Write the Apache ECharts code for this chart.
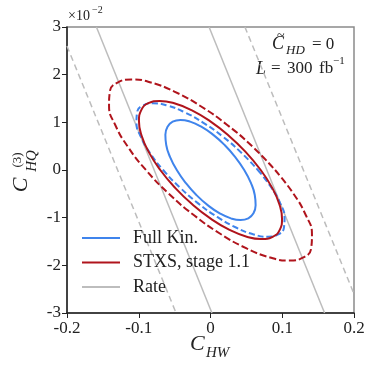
<!DOCTYPE html>
<html>
<head>
<meta charset="utf-8">
<script src="https://cdn.jsdelivr.net/npm/echarts@6/dist/echarts.min.js"></script>
<style>
  html, body { margin: 0; padding: 0; background: #fff; }
  #chart { width: 374px; height: 371px; }
</style>
</head>
<body>
<div id="chart"></div>
<script>
// axis ticks
var xTicks = [-0.2, -0.1, 0, 0.1, 0.2];
var xTickLabels = ['-0.2', '-0.1', '0', '0.1', '0.2'];
var yTicks = [-3, -2, -1, 0, 1, 2, 3];
var yTickLabels = ['-3', '-2', '-1', '0', '1', '2', '3'];

// contours, [C_HW, C_HQ(3) x 1e2]
var fullKinSolid = [
  [0.047, 0], [0.0563, -0.272], [0.0617, -0.525], [0.0629, -0.742], [0.0599, -0.909],
  [0.0527, -1.014], [0.042, -1.05], [0.0284, -1.014], [0.0129, -0.909], [-0.0035, -0.742],
  [-0.0197, -0.525], [-0.0345, -0.272], [-0.047, 0], [-0.0563, 0.272], [-0.0617, 0.525],
  [-0.0629, 0.742], [-0.0599, 0.909], [-0.0527, 1.014], [-0.042, 1.05], [-0.0284, 1.014],
  [-0.0129, 0.909], [0.0035, 0.742], [0.0197, 0.525], [0.0345, 0.272], [0.047, 0]
];
var fullKinDashed = [
  [0.066, 0], [0.0845, -0.362], [0.0972, -0.7], [0.1032, -0.99], [0.1023, -1.212],
  [0.0944, -1.352], [0.08, -1.4], [0.0602, -1.352], [0.0363, -1.212], [0.0099, -0.99],
  [-0.0172, -0.7], [-0.043, -0.362], [-0.066, 0], [-0.0845, 0.362], [-0.0972, 0.7],
  [-0.1032, 0.99], [-0.1023, 1.212], [-0.0944, 1.352], [-0.08, 1.4], [-0.0602, 1.352],
  [-0.0363, 1.212], [-0.0099, 0.99], [0.0172, 0.7], [0.043, 0.362], [0.066, 0]
];
var stxsSolid = [
  [0.07, 0], [0.086, -0.375], [0.0961, -0.725], [0.0997, -1.025], [0.0965, -1.256],
  [0.0867, -1.401], [0.071, -1.45], [0.0505, -1.401], [0.0265, -1.256], [0.0007, -1.025],
  [-0.0251, -0.725], [-0.0492, -0.375], [-0.07, 0], [-0.086, 0.375], [-0.0961, 0.725],
  [-0.0997, 1.025], [-0.0965, 1.256], [-0.0867, 1.401], [-0.071, 1.45], [-0.0505, 1.401],
  [-0.0265, 1.256], [-0.0007, 1.025], [0.0251, 0.725], [0.0492, 0.375], [0.07, 0]
];
var stxsDashed = [
  [0.09, 0], [0.1154, -0.492], [0.1329, -0.95], [0.1414, -1.343], [0.1403, -1.645],
  [0.1295, -1.835], [0.11, -1.9], [0.083, -1.835], [0.0503, -1.645], [0.0141, -1.343],
  [-0.0229, -0.95], [-0.0585, -0.492], [-0.09, 0], [-0.1154, 0.492], [-0.1329, 0.95],
  [-0.1414, 1.343], [-0.1403, 1.645], [-0.1295, 1.835], [-0.11, 1.9], [-0.083, 1.835],
  [-0.0503, 1.645], [-0.0141, 1.343], [0.0229, 0.95], [0.0585, 0.492], [0.09, 0]
];
// rate-only bands
var rateSolidA = [[-0.159, 3], [0.002, -3]];
var rateSolidB = [[-0.002, 3], [0.159, -3]];
var rateDashedA = [[-0.2, 2.6], [-0.048, -3]];
var rateDashedB = [[0.048, 3], [0.2, -2.6]];

var BLUE = '#3f84ec';
var RED = '#b0141c';
var GRAY = '#bdbdbd';
var SERIF = '"Liberation Serif", "DejaVu Serif", serif';

function lineSeries(name, data, color, width, dash, z) {
  return {
    name: name,
    type: 'line',
    data: data,
    smooth: true,
    symbol: 'none',
    silent: true,
    animation: false,
    z: z,
    lineStyle: { color: color, width: width, type: dash || 'solid' },
    itemStyle: { color: color }
  };
}

function txt(text, x, y, size, opt) {
  opt = opt || {};
  return {
    type: 'text',
    x: x,
    y: y,
    silent: true,
    style: {
      text: text,
      font: (opt.italic ? 'italic ' : '') + size + 'px ' + SERIF,
      fill: '#222',
      textAlign: opt.align || 'left',
      textVerticalAlign: 'middle',
      align: opt.align || 'left',
      verticalAlign: 'middle'
    }
  };
}

var chart = echarts.init(document.getElementById('chart'), null, { renderer: 'canvas' });

var option = {
  backgroundColor: '#fff',
  animation: false,
  grid: {
    left: 67, top: 27, width: 287, height: 286,
    show: true, borderColor: '#8a8a8a', borderWidth: 1.5, backgroundColor: 'transparent'
  },
  xAxis: {
    type: 'value', min: -0.2, max: 0.2, interval: 0.1,
    axisLine: { show: true, onZero: false, lineStyle: { color: '#222', width: 1.5 } },
    axisTick: { show: true, inside: false, length: 5, lineStyle: { color: '#222', width: 1 } },
    splitLine: { show: false },
    axisLabel: {
      margin: 7, color: '#222', fontSize: 17, fontFamily: SERIF,
      formatter: function (v) {
        var i = xTicks.findIndex(function (t) { return Math.abs(t - v) < 1e-9; });
        return i >= 0 ? xTickLabels[i] : '';
      }
    }
  },
  yAxis: {
    type: 'value', min: -3, max: 3, interval: 1,
    axisLine: { show: true, onZero: false, lineStyle: { color: '#222', width: 1.5 } },
    axisTick: { show: true, inside: false, length: 5, lineStyle: { color: '#222', width: 1 } },
    splitLine: { show: false },
    axisLabel: {
      margin: 6, color: '#222', fontSize: 17, fontFamily: SERIF,
      formatter: function (v) {
        var i = yTicks.indexOf(Math.round(v));
        return i >= 0 ? yTickLabels[i] : '';
      }
    }
  },
  legend: {
    orient: 'vertical',
    left: 82, top: 229, padding: 0,
    icon: 'rect',
    itemWidth: 38, itemHeight: 2, itemGap: 6.5,
    data: ['Full Kin.', 'STXS, stage 1.1', 'Rate'],
    textStyle: { fontFamily: SERIF, fontSize: 18, color: '#222', padding: [0, 0, 0, 8] },
    selectedMode: false
  },
  series: [
    lineSeries('Rate', rateSolidA, GRAY, 1.5, null, 1),
    lineSeries('Rate', rateSolidB, GRAY, 1.5, null, 1),
    lineSeries('Rate', rateDashedA, GRAY, 1.5, [6, 4], 1),
    lineSeries('Rate', rateDashedB, GRAY, 1.5, [6, 4], 1),
    lineSeries('Full Kin.', fullKinSolid, BLUE, 2, null, 3),
    lineSeries('STXS, stage 1.1', stxsSolid, RED, 2, null, 3),
    lineSeries('Full Kin.', fullKinDashed, BLUE, 2, [6, 3], 2),
    lineSeries('STXS, stage 1.1', stxsDashed, RED, 2, [7, 3], 2)
  ],
  graphic: [
    // scale factor above the y axis
    txt('\u00d710', 68, 16, 14),
    txt('\u22122', 92, 10, 10),
    // x axis title
    txt('C', 190, 344, 22, { italic: true }),
    txt('HW', 206, 353, 15, { italic: true }),
    // y axis title, rotated
    {
      type: 'group', x: 27, y: 193, rotation: Math.PI / 2,
      children: [
        txt('C', 8, -6, 22, { italic: true, align: 'center' }),
        txt('HQ', 32, 5.5, 15, { italic: true, align: 'center' }),
        txt('(3)', 33, -9, 13, { align: 'center' })
      ]
    },
    // annotations
    txt('C', 272, 44, 18, { italic: true }),
    txt('~', 277, 36, 14),
    txt('HD', 286, 51, 13, { italic: true }),
    txt('= 0', 312, 45, 17),
    txt('L', 256, 69, 18, { italic: true }),
    txt('=', 271, 69, 17),
    txt('300', 287, 69, 17),
    txt('fb', 319, 69, 17),
    txt('\u22121', 333, 61, 11)
  ]
};

chart.setOption(option);
</script>
</body>
</html>
